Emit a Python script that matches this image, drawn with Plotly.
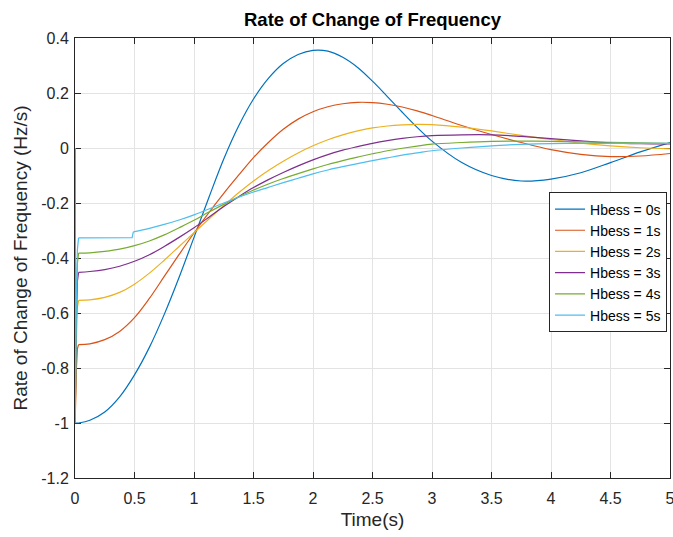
import plotly.graph_objects as go

# ---------------- data ----------------
SERIES_NAMES = ["Hbess = 0s", "Hbess = 1s", "Hbess = 2s", "Hbess = 3s", "Hbess = 4s", "Hbess = 5s"]
COLORS = ["#0072BD", "#D95319", "#EDB120", "#7E2F8E", "#77AC30", "#4DBEEE"]

# initial transient (t = 0 .. 0.03 s)
TR_T = [0.0, 0.001, 0.012, 0.02, 0.03]
TR_H0 = [0.0, -1.0, -1.0, -1.0, -1.0]
TR_H1 = [0.0, -1.0, -0.80, -0.73, -0.715]
TR_H2 = [0.0, -1.0, -0.69, -0.58, -0.554]
TR_H3 = [0.0, -1.0, -0.62, -0.485, -0.452]
TR_H4 = [0.0, -1.0, -0.57, -0.42, -0.382]
TR_H5 = [0.0, -1.0, -0.53, -0.37, -0.327]

# main response, shared time grid (Hbess = 0..4 s)
T = [0.03, 0.125, 0.25, 0.375, 0.5, 0.625, 0.75, 0.875, 1.0, 1.125, 1.25, 1.375,
     1.5, 1.625, 1.75, 1.875, 2.0, 2.125, 2.25, 2.375, 2.5, 2.625, 2.75, 2.875,
     3.0, 3.25, 3.5, 3.75, 4.0, 4.25, 4.5, 4.75, 5.0]
H0 = [-1.0, -0.99, -0.96, -0.905, -0.825, -0.725, -0.605, -0.47, -0.325, -0.18, -0.04, 0.08,
      0.178, 0.253, 0.307, 0.34, 0.355, 0.352, 0.33, 0.293, 0.243, 0.187, 0.13, 0.075,
      0.025, -0.053, -0.1, -0.12, -0.113, -0.09, -0.053, -0.014, 0.02]
H1 = [-0.715, -0.712, -0.697, -0.667, -0.617, -0.547, -0.467, -0.387, -0.309, -0.235, -0.165, -0.099,
      -0.035, 0.02, 0.068, 0.105, 0.132, 0.15, 0.161, 0.166, 0.165, 0.159, 0.149, 0.135,
      0.118, 0.082, 0.049, 0.02, -0.006, -0.023, -0.031, -0.029, -0.02]
H2 = [-0.554, -0.552, -0.543, -0.525, -0.495, -0.455, -0.408, -0.358, -0.308, -0.258, -0.21, -0.163,
      -0.12, -0.082, -0.048, -0.018, 0.008, 0.03, 0.048, 0.062, 0.073, 0.08, 0.084, 0.086,
      0.085, 0.076, 0.062, 0.046, 0.031, 0.018, 0.008, 0.001, -0.003]
H3 = [-0.452, -0.449, -0.442, -0.43, -0.412, -0.388, -0.358, -0.325, -0.29, -0.252, -0.213, -0.177,
      -0.144, -0.115, -0.089, -0.065, -0.043, -0.024, -0.008, 0.005, 0.017, 0.027, 0.035, 0.041,
      0.045, 0.048, 0.048, 0.042, 0.034, 0.026, 0.019, 0.016, 0.015]
H4 = [-0.382, -0.381, -0.376, -0.368, -0.355, -0.338, -0.316, -0.29, -0.263, -0.233, -0.205, -0.178,
      -0.153, -0.131, -0.111, -0.093, -0.076, -0.06, -0.046, -0.033, -0.021, -0.01, -0.001, 0.007,
      0.014, 0.02, 0.024, 0.025, 0.024, 0.022, 0.021, 0.019, 0.017]

# Hbess = 5 s: flat part, step near 0.49 s, then main response
H5_PRE_T = [0.03, 0.25, 0.48, 0.49]
H5_PRE = [-0.327, -0.327, -0.326, -0.305]
T5 = [0.49, 0.625, 0.75, 0.875, 1.0, 1.125, 1.25, 1.375, 1.5, 1.625, 1.75, 1.875,
      2.0, 2.125, 2.25, 2.375, 2.5, 2.625, 2.75, 2.875, 3.0, 3.25, 3.5, 3.75,
      4.0, 4.25, 4.5, 4.75, 5.0]
H5 = [-0.305, -0.292, -0.278, -0.262, -0.243, -0.222, -0.2, -0.179, -0.16, -0.143, -0.126, -0.11,
      -0.094, -0.08, -0.068, -0.057, -0.046, -0.036, -0.026, -0.018, -0.01, 0.0, 0.008, 0.013,
      0.016, 0.017, 0.017, 0.017, 0.017]

X_TICKS = [0, 0.5, 1, 1.5, 2, 2.5, 3, 3.5, 4, 4.5, 5]
X_TICK_TEXT = ["0", "0.5", "1", "1.5", "2", "2.5", "3", "3.5", "4", "4.5", "5"]
Y_TICKS = [0.4, 0.2, 0, -0.2, -0.4, -0.6, -0.8, -1.0, -1.2]
Y_TICK_TEXT = ["0.4", "0.2", "0", "-0.2", "-0.4", "-0.6", "-0.8", "-1", "-1.2"]

# ---------------- figure ----------------
FONT = "Liberation Sans, Arial, sans-serif"
LW = 1.2

transients = [TR_H0, TR_H1, TR_H2, TR_H3, TR_H4, TR_H5]
mains = [(T, H0), (T, H1), (T, H2), (T, H3), (T, H4), (T5, H5)]

fig = go.Figure()
for i, name in enumerate(SERIES_NAMES):
    grp = "g%d" % i
    fig.add_trace(go.Scatter(x=TR_T, y=transients[i], mode="lines",
                             line=dict(color=COLORS[i], width=LW, shape="linear"),
                             legendgroup=grp, showlegend=False, hoverinfo="skip"))
    if i == 5:
        fig.add_trace(go.Scatter(x=H5_PRE_T, y=H5_PRE, mode="lines",
                                 line=dict(color=COLORS[i], width=LW, shape="linear"),
                                 legendgroup=grp, showlegend=False, hoverinfo="skip"))
    tx, ty = mains[i]
    fig.add_trace(go.Scatter(x=tx, y=ty, mode="lines", name=name,
                             line=dict(color=COLORS[i], width=LW, shape="spline", smoothing=1.0),
                             legendgroup=grp, showlegend=True))

axis_common = dict(
    showline=True, linecolor="#262626", linewidth=1, mirror="ticks",
    ticks="inside", ticklen=6, tickcolor="#262626", tickwidth=1,
    showgrid=True, gridcolor="#e3e3e3", gridwidth=1,
    zeroline=False, layer="below traces", ticklabeloverflow="allow",
    automargin=False,
    tickfont=dict(family=FONT, size=16, color="#262626"),
)

fig.update_layout(
    width=673, height=537,
    margin=dict(l=75, r=3, t=38, b=59, autoexpand=False),
    paper_bgcolor="white", plot_bgcolor="white",
    title=dict(text="<b>Rate of Change of Frequency</b>", x=0.5, xref="paper",
               y=1, yref="container", yanchor="top", pad=dict(t=13),
               font=dict(family=FONT, size=18.5, color="#000000")),
    xaxis=dict(range=[0, 5], tickvals=X_TICKS, ticktext=X_TICK_TEXT,
               title=dict(text="Time(s)", font=dict(family=FONT, size=19, color="#262626"), standoff=6),
               ticklabelstandoff=6, **axis_common),
    yaxis=dict(range=[-1.2, 0.4], tickvals=Y_TICKS, ticktext=Y_TICK_TEXT,
               title=dict(text="Rate of Change of Frequency (Hz/s)",
                          font=dict(family=FONT, size=19, color="#262626"), standoff=8),
               ticklabelstandoff=2, **axis_common),
    legend=dict(x=0.995, xanchor="right", y=0.649, yanchor="top",
                bgcolor="white", bordercolor="#262626", borderwidth=1,
                font=dict(family=FONT, size=14, color="#000000"),
                traceorder="grouped", tracegroupgap=0),
    showlegend=True,
)

fig.write_html("out.html")
